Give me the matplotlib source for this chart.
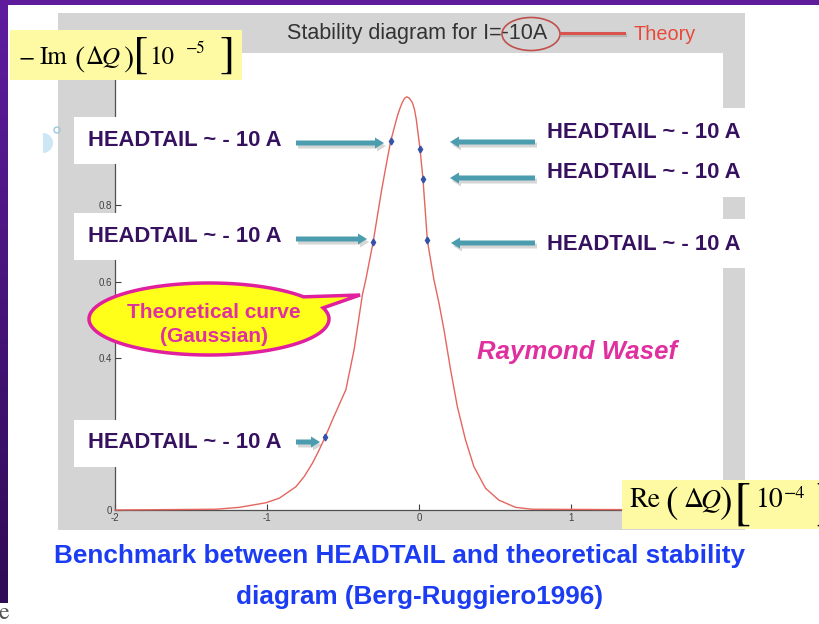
import numpy as np
import matplotlib
matplotlib.use('Agg')
import matplotlib.pyplot as plt
from matplotlib.patches import Rectangle, Ellipse, FancyArrow, Polygon, Wedge, Circle
from matplotlib.colors import LinearSegmentedColormap

plt.rcParams['font.family'] = ['Liberation Sans', 'DejaVu Sans']
plt.rcParams['axes.unicode_minus'] = False

# theoretical stability diagram
theory_re = [-2.0, -1.335, -1.182, -1.007, -0.919, -0.810, -0.755, -0.701, -0.660,
             -0.617, -0.569, -0.481, -0.427, -0.372, -0.350, -0.302, -0.246, -0.214,
             -0.186, -0.142, -0.125, -0.110, -0.095, -0.081, -0.065, -0.044, -0.030,
             -0.018, 0.007, 0.026, 0.055, 0.098, 0.131, 0.164, 0.208, 0.252, 0.306,
             0.361, 0.438, 0.525, 0.635, 0.744, 2.0]
theory_im = [0.0, 0.002, 0.007, 0.019, 0.031, 0.061, 0.088, 0.123, 0.155,
             0.192, 0.237, 0.316, 0.421, 0.566, 0.605, 0.703, 0.840, 0.910,
             0.969, 1.035, 1.055, 1.070, 1.081, 1.085, 1.082, 1.070, 1.052,
             1.026, 0.947, 0.870, 0.708, 0.605, 0.544, 0.474, 0.368, 0.272, 0.184,
             0.114, 0.057, 0.026, 0.007, 0.002, 0.0]

# HEADTAIL simulation points
headtail_re = [-0.617, -0.302, -0.186, 0.007, 0.026, 0.055]
headtail_im = [0.192, 0.703, 0.969, 0.947, 0.870, 0.708]

xticks = [-2, -1, 0, 1, 2]
xtick_labels = ['-2', '-1', '0', '1', '2']
yticks = [0, 0.2, 0.4, 0.6, 0.8, 1.0, 1.2]
ytick_labels = ['0', '0.2', '0.4', '0.6', '0.8', '1', '1.2']

label_text = 'HEADTAIL ~ - 10 A'
W, H = 819, 624

fig = plt.figure(figsize=(W / 100, H / 100), dpi=100, facecolor='white')


def pixel_axes(name, z):
    a = fig.add_axes([0, 0, 1, 1], zorder=z, label=name)
    a.set_xlim(0, W)
    a.set_ylim(H, 0)
    a.axis('off')
    return a


# slide background
bg = pixel_axes('bg', 0)
purple = LinearSegmentedColormap.from_list('p', ['#5f1c9f', '#2f0c55'])
bg.imshow(np.linspace(0, 1, 100).reshape(-1, 1), cmap=purple, extent=(0, 8, 603, 0),
          aspect='auto')
bg.add_patch(Rectangle((0, 0), W, 5, color='#5e1c9c', lw=0))
bg.add_patch(Rectangle((58, 13), 687, 517, color='#d4d4d4', lw=0))
bg.set_xlim(0, W)
bg.set_ylim(H, 0)

# the MATLAB plot
ax = fig.add_axes([115 / W, (H - 510) / H, 608 / W, 457 / H], zorder=1, label='data')
ax.set_facecolor('white')
ax.plot(theory_re, theory_im, color='#e4665e', lw=1.0, zorder=3, clip_on=False)
ax.plot(headtail_re, headtail_im, 'd', color='#3352a8', ms=3.5, zorder=4)
ax.set_xlim(-2, 2)
ax.set_ylim(0, 1.2)
ax.set_xticks(xticks)
ax.set_xticklabels(xtick_labels)
ax.set_yticks(yticks)
ax.set_yticklabels(ytick_labels)
for s in ['top', 'right']:
    ax.spines[s].set_visible(False)
for s in ['left', 'bottom']:
    ax.spines[s].set_color('#505050')
    ax.spines[s].set_linewidth(0.9)
ax.tick_params(direction='in', length=4, labelsize=7, colors='#404040', pad=2)

# annotations on top
fg = pixel_axes('fg', 2)

fg.text(417, 33, 'Stability diagram for I=-10A', fontsize=15.5, color='#333333',
        ha='center', va='center')
fg.add_patch(Ellipse((531, 34), 58, 33, fill=False, ec='#c0504d', lw=1.2))
fg.plot([562, 625], [35, 35], color='#9a9a9a', lw=2.5, alpha=0.5)
fg.plot([561, 624], [33, 33], color='#d9534f', lw=2.2)
fg.text(633, 35, 'Theory', fontsize=14.3, color='#e84a3a', va='center')


def equation(parts):
    # parts: (text, x, y, size, italic, valign)
    for txt, x, y, size, ital, va in parts:
        fg.text(x, y, txt, fontsize=size, family='STIXGeneral',
                style='italic' if ital else 'normal', color='black', va=va)


# axis label boxes
fg.add_patch(Rectangle((10, 30), 232, 50, color='#fdfaa3', lw=0))
equation([
    ('\u2212', 19, 64, 17, False, 'baseline'),
    ('Im', 40, 64, 18, False, 'baseline'),
    ('(', 74, 60, 22, False, 'center'),
    ('\u0394', 86, 64, 18, False, 'baseline'),
    ('Q', 102, 64, 18, True, 'baseline'),
    (')', 123, 60, 22, False, 'center'),
    ('[', 133, 56, 33, False, 'center'),
    ('10', 149, 64, 18, False, 'baseline'),
    ('\u22125', 186, 53, 12, False, 'baseline'),
    (']', 219, 56, 33, False, 'center'),
])

fg.add_patch(Rectangle((622, 480), 200, 49, color='#fdfaa3', lw=0))
equation([
    ('Re', 629, 507, 20, False, 'baseline'),
    ('(', 665, 504, 27, False, 'center'),
    ('\u0394', 684, 507, 20, False, 'baseline'),
    ('Q', 700, 507, 20, True, 'baseline'),
    (')', 720, 504, 27, False, 'center'),
    ('[', 733, 505, 37, False, 'center'),
    ('10', 756, 507, 20, False, 'baseline'),
    ('\u22124', 784, 498, 13, False, 'baseline'),
    (']', 815, 505, 37, False, 'center'),
])

# small slide icon
fg.add_patch(Wedge((43, 143), 10, -90, 90, color='#cde6f3', lw=0))
fg.add_patch(Circle((57, 130), 3, fill=False, ec='#9cc8dc', lw=1))

# HEADTAIL label boxes, text and arrows
left_boxes = [117, 213, 420]
for top in left_boxes:
    fg.add_patch(Rectangle((74, top), 221, 47, color='white', lw=0))
right_boxes = [(108, 89), (219, 49)]
for top, h in right_boxes:
    fg.add_patch(Rectangle((534, top), 240, h, color='white', lw=0))

left_labels = [140, 236, 443]
right_labels = [133, 172, 244]
for yc in left_labels:
    fg.text(88, yc, label_text, fontsize=15.8, fontweight='bold', color='#36115f',
            va='center')
for yc in right_labels:
    fg.text(547, yc, label_text, fontsize=15.8, fontweight='bold', color='#36115f',
            va='center')

arrows = [(296, 384, 143), (296, 367, 239), (296, 320, 442),
          (535, 450, 142), (535, 450, 178), (535, 451, 243)]
for x0, x1, y in arrows:
    fg.add_patch(FancyArrow(x0 + 2, y + 3, x1 - x0, 0, width=5, head_width=11,
                            head_length=9, length_includes_head=True,
                            color='#8a8a8a', alpha=0.35, lw=0))
    fg.add_patch(FancyArrow(x0, y, x1 - x0, 0, width=5, head_width=11,
                            head_length=9, length_includes_head=True,
                            color='#4a9cae', lw=0))

# speech bubble
cx, cy, a, b = 209, 319, 120, 36
t = np.radians(np.linspace(38, 378, 200))
pts = [(360, 295)] + [(cx + a * np.cos(v), cy - b * np.sin(v)) for v in t]
fg.add_patch(Polygon(pts, closed=True, fc='#ffff1a', ec='#e0209e', lw=2.5))
fg.text(214, 312, 'Theoretical curve', fontsize=15, fontweight='bold',
        color='#e030a0', ha='center', va='center')
fg.text(214, 337, '(Gaussian)', fontsize=15, fontweight='bold',
        color='#e030a0', ha='center', va='center')

fg.text(477, 352, 'Raymond Wasef', fontsize=18.5, fontweight='bold', style='italic',
        color='#e030a0', va='center')

# caption
fg.text(400, 556, 'Benchmark between HEADTAIL and theoretical stability',
        fontsize=18.8, fontweight='bold', color='#1b3cf2', ha='center', va='center')
fg.text(420, 597, 'diagram (Berg-Ruggiero1996)', fontsize=18.8, fontweight='bold',
        color='#1b3cf2', ha='center', va='center')

fg.text(-2, 613, 'e', fontsize=17, family='STIXGeneral', color='#555555', va='center')

fig.savefig('out.png', dpi=100)
